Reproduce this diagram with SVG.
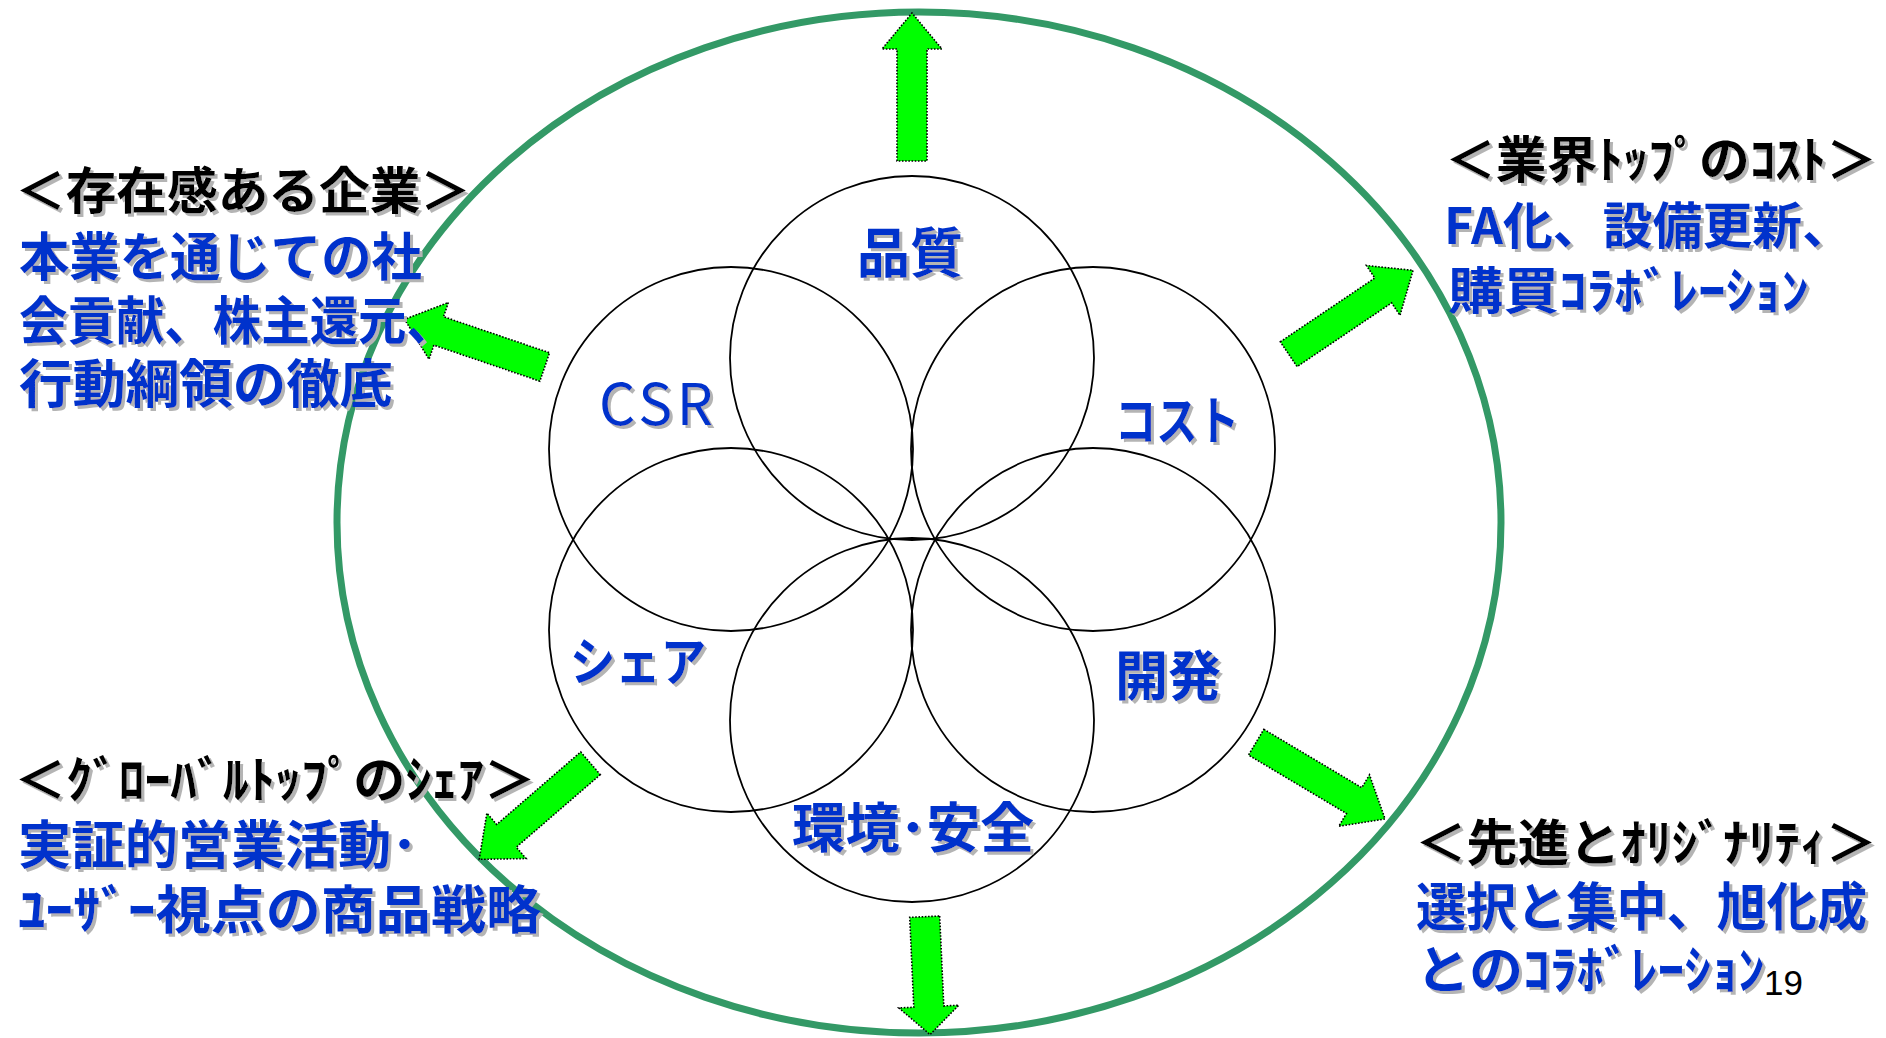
<svg xmlns="http://www.w3.org/2000/svg" width="1886" height="1038" viewBox="0 0 1886 1038">
<defs>
<style>
.bg{fill:#ffffff}
.outer{fill:none;stroke:#339966;stroke-width:7}
.petal{fill:none;stroke:#000000;stroke-width:1.8}
.arrow{fill:#00ff00;stroke:#000000;stroke-width:1.6;stroke-dasharray:1.6 1.6}
.t{font-family:'Noto Sans CJK JP','Noto Sans CJK SC',sans-serif;font-weight:bold;filter:url(#sh)}
.reg{font-weight:normal}
.blk{fill:#000000}
.blu{fill:#0033cc}
.pg{font-family:'Liberation Sans',Arial,sans-serif;font-size:35px;fill:#000000}
</style>
<filter id="sh" x="-5%" y="-20%" width="115%" height="150%">
<feDropShadow dx="3" dy="3" stdDeviation="0" flood-color="#b4b4b4" flood-opacity="1"/>
</filter>
</defs>
<rect class="bg" x="0" y="0" width="1886" height="1038"/>

<g id="outer-ring">
<ellipse class="outer" cx="919" cy="522.5" rx="582" ry="510.5"/>
</g>

<g id="connectors">
<polygon class="arrow" transform="translate(912,161) rotate(-90)" points="0,-15 112,-15 112,-30 148,0 112,30 112,15 0,15"/>
<polygon class="arrow" transform="translate(544.7,367) rotate(198.8)" points="0,-15 112,-15 112,-30 148,0 112,30 112,15 0,15"/>
<polygon class="arrow" transform="translate(1288.7,354.2) rotate(-34)" points="0,-15 114,-15 114,-30 150,0 114,30 114,15 0,15"/>
<polygon class="arrow" transform="translate(590.5,763.3) rotate(139.2)" points="0,-15 111,-15 111,-30 147,0 111,30 111,15 0,15"/>
<polygon class="arrow" transform="translate(1256.2,742.2) rotate(30.8)" points="0,-15 114,-15 114,-30 150,0 114,30 114,15 0,15"/>
<polygon class="arrow" transform="translate(924.7,916.7) rotate(87.4)" points="0,-15 90,-15 90,-30 118,0 90,30 90,15 0,15"/>
</g>

<g id="node-quality">
<circle class="petal" cx="912" cy="358" r="182"/>
<text class="t blu" x="857" y="273" font-size="54" textLength="106" lengthAdjust="spacingAndGlyphs">品質</text>
</g>
<g id="node-csr">
<circle class="petal" cx="731" cy="449" r="182"/>
<text class="t reg blu" x="599" y="425" font-size="57" textLength="114" lengthAdjust="spacing">CSR</text>
</g>
<g id="node-cost">
<circle class="petal" cx="1093" cy="449" r="182"/>
<text class="t blu" x="1115" y="440" font-size="52" textLength="124" lengthAdjust="spacingAndGlyphs">コスト</text>
</g>
<g id="node-share">
<circle class="petal" cx="731" cy="630" r="182"/>
<text class="t blu" x="570" y="681" font-size="52" textLength="136" lengthAdjust="spacingAndGlyphs">シェア</text>
</g>
<g id="node-development">
<circle class="petal" cx="1093" cy="630" r="182"/>
<text class="t blu" x="1115" y="696" font-size="54" textLength="106" lengthAdjust="spacingAndGlyphs">開発</text>
</g>
<g id="node-environment">
<circle class="petal" cx="912" cy="720" r="182"/>
<text class="t blu" x="792" y="848" font-size="54" textLength="242" lengthAdjust="spacingAndGlyphs">環境･安全</text>
</g>

<g id="note-presence">
<text class="t blk" x="15" y="209" font-size="50" textLength="456" lengthAdjust="spacingAndGlyphs">＜存在感ある企業＞</text>
<text class="t blu" x="19" y="276" font-size="52" textLength="403" lengthAdjust="spacingAndGlyphs">本業を通じての社</text>
<text class="t blu" x="19" y="340" font-size="52" textLength="436" lengthAdjust="spacingAndGlyphs">会貢献、株主還元、</text>
<text class="t blu" x="19" y="403" font-size="52" textLength="374" lengthAdjust="spacingAndGlyphs">行動綱領の徹底</text>
</g>

<g id="note-cost">
<text class="t blk" x="1445" y="178" font-size="50" textLength="432" lengthAdjust="spacingAndGlyphs">＜業界ﾄｯﾌﾟのｺｽﾄ＞</text>
<text class="t blu" x="1444" y="244" font-size="50" textLength="408" lengthAdjust="spacingAndGlyphs">FA化、設備更新、</text>
<text class="t blu" x="1448" y="309" font-size="50" textLength="361" lengthAdjust="spacingAndGlyphs">購買ｺﾗﾎﾞﾚｰｼｮﾝ</text>
</g>

<g id="note-share">
<text class="t blk" x="14" y="798" font-size="50" textLength="522" lengthAdjust="spacingAndGlyphs">＜ｸﾞﾛｰﾊﾞﾙﾄｯﾌﾟのｼｪｱ＞</text>
<text class="t blu" x="18" y="864" font-size="52" textLength="400" lengthAdjust="spacingAndGlyphs">実証的営業活動･</text>
<text class="t blu" x="18" y="929" font-size="52" textLength="523" lengthAdjust="spacingAndGlyphs">ﾕｰｻﾞｰ視点の商品戦略</text>
</g>

<g id="note-originality">
<text class="t blk" x="1415" y="861" font-size="50" textLength="462" lengthAdjust="spacingAndGlyphs">＜先進とｵﾘｼﾞﾅﾘﾃｨ＞</text>
<text class="t blu" x="1416" y="926" font-size="52" textLength="451" lengthAdjust="spacingAndGlyphs">選択と集中、旭化成</text>
<text class="t blu" x="1416" y="989" font-size="52" textLength="349" lengthAdjust="spacingAndGlyphs">とのｺﾗﾎﾞﾚｰｼｮﾝ</text>
</g>

<g id="page-number">
<text class="pg" x="1764" y="995">19</text>
</g>
</svg>
